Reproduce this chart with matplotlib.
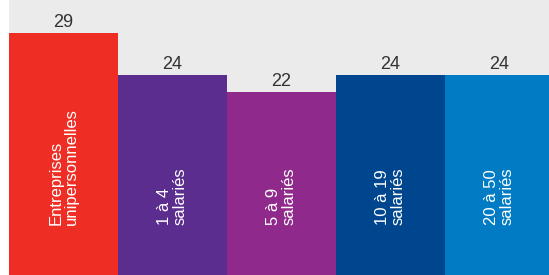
import matplotlib.pyplot as plt

# data
labels = ["Entreprises\nunipersonnelles", "1 à 4\nsalariés", "5 à 9\nsalariés",
          "10 à 19\nsalariés", "20 à 50\nsalariés"]
values = [29, 24, 22, 24, 24]
colors = ["#ee2e24", "#5b2d8e", "#8f2a8c", "#00468f", "#007bc4"]

plt.rcParams['font.family'] = ['Liberation Sans', 'DejaVu Sans']

fig = plt.figure(figsize=(5.49, 2.75), dpi=100)
ax = fig.add_axes([9 / 549, 0, 545 / 549, 1])
ax.set_facecolor("#ebebeb")

x = range(len(values))
ax.bar(x, values, width=1.0, color=colors)
ax.set_xlim(-0.5, 4.5)
ax.set_ylim(0, 33.0)

for i, v in enumerate(values):
    ax.annotate(str(v), (i, v), xytext=(0, 1.5), textcoords="offset points",
                ha="center", va="bottom", fontsize=13, color="#333333")
    ax.text(i, 6.0, labels[i], rotation=90, ha="center", va="bottom",
            multialignment="left", fontsize=12, color="white", linespacing=1.0)

for s in ax.spines.values():
    s.set_visible(False)
ax.set_xticks([])
ax.set_yticks([])

fig.savefig("out.png", dpi=100)
